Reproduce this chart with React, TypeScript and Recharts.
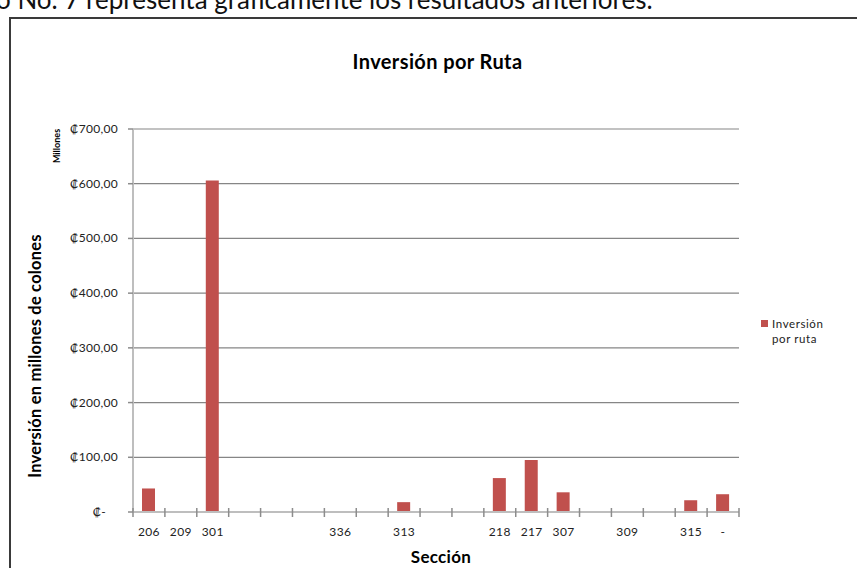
import React from "react"
import { Bar, BarChart, CartesianGrid, XAxis, YAxis } from "recharts"

// Sections on the category axis (blank slots are routes without a label)
const sections = ["206", "209", "301", "", "", "", "336", "", "313", "", "", "218", "217", "307", "", "309", "", "315", "-"]
// Investment per route, in millions of colones
const investment: (number | null)[] = [43, 0, 606, null, null, null, 1.5, null, 18, null, null, 62, 95, 36, null, 0, null, 21.5, 32.5]
const yTicks = [0, 100, 200, 300, 400, 500, 600, 700]

const seriesName = "Inversión por ruta"
const chartTitle = "Inversión por Ruta"
const yTitle = "Inversión en millones de colones"
const yUnit = "Millones"
const xTitle = "Sección"
const introText = "o No. 7 representa gráficamente los resultados anteriores."

const data = sections.map((s, i) => ({ section: s, value: investment[i] }))

const FONT = "Lato, 'DejaVu Sans', sans-serif"
const BAR = "#C0504D"

function colones(v: number) {
  return v === 0 ? "₡-" : `₡${v},00`
}

function YTick(props: any) {
  const { x, y, payload } = props
  const zero = payload.value === 0
  return (
    <text
      x={zero ? x - 20 : x - 8}
      y={y}
      dy={4}
      textAnchor="end"
      fontSize={12}
      letterSpacing={0.3}
      fontFamily={FONT}
      fill="#222"
    >
      {colones(payload.value)}
    </text>
  )
}

// Category ticks: label in the middle, tick marks on the band edges (Excel style)
function XTick(props: any) {
  const { x, y, payload, index } = props
  const off = payload.offset ?? 16
  const last = index === sections.length - 1
  return (
    <g>
      <line x1={x - off} x2={x - off} y1={y - 4} y2={y + 5} stroke="#8C8C8C" strokeWidth={1.5} />
      {last && (
        <line x1={x + off} x2={x + off} y1={y - 4} y2={y + 5} stroke="#8C8C8C" strokeWidth={1.5} />
      )}
      <text x={x} y={y} dy={24} textAnchor="middle" fontSize={12} letterSpacing={0.4} fontFamily={FONT} fill="#222">
        {payload.value}
      </text>
    </g>
  )
}

export default function App() {
  return (
    <div style={{ position: "absolute", left: 0, top: 0, width: 857, height: 568, overflow: "hidden", background: "#fff", fontFamily: FONT }}>
      <div style={{ position: "absolute", left: -4, top: -17, fontSize: 26, whiteSpace: "nowrap", color: "#111" }}>
        {introText}
      </div>
      <div style={{ position: "absolute", left: 9, top: 17, width: 900, height: 600, borderLeft: "2px solid #3a3a3a", borderTop: "2px solid #3a3a3a" }} />

      <BarChart
        width={857}
        height={568}
        data={data}
        margin={{ top: 129, right: 118, bottom: 26, left: 73 }}
        style={{ position: "absolute", left: 0, top: 0 }}
      >
        <CartesianGrid vertical={false} stroke="#868686" strokeWidth={1.2} />
        <XAxis
          dataKey="section"
          interval={0}
          height={30}
          tickSize={0}
          tickMargin={0}
          tickLine={false}
          axisLine={{ stroke: "#BEBEBE", strokeWidth: 2 }}
          tick={<XTick />}
        />
        <YAxis
          width={60}
          domain={[0, 700]}
          ticks={yTicks}
          interval={0}
          tickSize={5}
          tickLine={{ stroke: "#8C8C8C", strokeWidth: 1.5 }}
          axisLine={{ stroke: "#BEBEBE", strokeWidth: 2 }}
          tick={<YTick />}
        />
        <Bar dataKey="value" name={seriesName} fill={BAR} barSize={13} isAnimationActive={false} />
      </BarChart>

      <div style={{ position: "absolute", left: 0, width: 875, top: 49, textAlign: "center", fontSize: 20, fontWeight: 700, letterSpacing: 0.4 }}>
        {chartTitle}
      </div>
      <div style={{ position: "absolute", left: 0, width: 882, top: 546, textAlign: "center", fontSize: 17, fontWeight: 700, letterSpacing: 0.3 }}>
        {xTitle}
      </div>
      <div
        style={{
          position: "absolute", left: 35, top: 356, transform: "translate(-50%, -50%) rotate(-90deg)",
          whiteSpace: "nowrap", fontSize: 16.5, fontWeight: 700, letterSpacing: 0.2,
        }}
      >
        {yTitle}
      </div>
      <div
        style={{
          position: "absolute", left: 56, top: 146, transform: "translate(-50%, -50%) rotate(-90deg)",
          whiteSpace: "nowrap", fontSize: 9, fontWeight: 700,
        }}
      >
        {yUnit}
      </div>

      <div style={{ position: "absolute", left: 761, top: 316, display: "flex", alignItems: "flex-start", gap: 4, fontSize: 11.5, lineHeight: "15px", letterSpacing: 0.6, color: "#222" }}>
        <span style={{ width: 7, height: 7, background: BAR, marginTop: 4, flexShrink: 0 }} />
        <span style={{ width: 66 }}>{seriesName}</span>
      </div>
    </div>
  )
}
